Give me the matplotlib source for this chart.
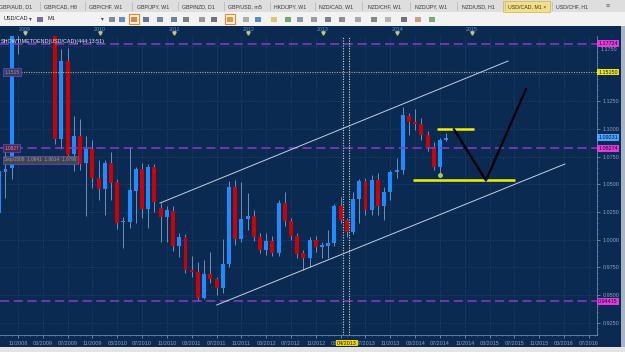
import matplotlib
matplotlib.use("Agg")
import matplotlib.pyplot as plt
import matplotlib.transforms as mtransforms
from matplotlib.patches import Rectangle
import numpy as np

plt.rcParams['font.family'] = ['Liberation Sans', 'DejaVu Sans']

# ---------------- data (USD/CAD monthly, starting Aug 2008) ----------------
start_year, start_month = 2008, 8
opens = [1.0241, 1.0614, 1.0650, 1.2100, 1.2480, 1.2200, 1.2300, 1.2700, 1.2600, 1.2000,
         1.0907, 1.1614, 1.0771, 1.0937, 1.0696, 1.0817, 1.0555, 1.0458, 1.0690, 1.0524,
         1.0160, 1.0162, 1.0443, 1.0636, 1.0274, 1.0654, 1.0284, 1.0202, 1.0259, 0.9943,
         1.0022, 0.9726, 0.9711, 0.9470, 0.9690, 0.9642, 0.9561, 0.9778, 1.0479, 1.0006,
         1.0184, 1.0217, 1.0027, 0.9907, 0.9988, 0.9877, 1.0329, 1.0171, 1.0033, 0.9877,
         0.9832, 0.9997, 0.9937, 0.9946, 0.9973, 1.0304, 1.0178, 1.0072, 1.0365, 1.0533,
         1.0268, 1.0539, 1.0304, 1.0433, 1.0614, 1.0630, 1.1117, 1.1061, 1.1042, 1.0946,
         1.0840, 1.0659, 1.0901]
highs = [1.0660, 1.0790, 1.2950, 1.2960, 1.3000, 1.2740, 1.2800, 1.3000, 1.2700, 1.2100,
         1.1720, 1.1735, 1.1117, 1.1090, 1.0937, 1.0900, 1.0720, 1.0720, 1.0795, 1.0550,
         1.0208, 1.0840, 1.0660, 1.0693, 1.0680, 1.0680, 1.0331, 1.0300, 1.0300, 1.0060,
         1.0050, 0.9850, 0.9801, 0.9816, 0.9891, 0.9660, 1.0003, 1.0530, 1.0539, 1.0524,
         1.0424, 1.0268, 1.0060, 1.0058, 1.0030, 1.0359, 1.0433, 1.0200, 1.0060, 0.9910,
         1.0027, 1.0030, 0.9979, 1.0087, 1.0320, 1.0383, 1.0200, 1.0433, 1.0550, 1.0555,
         1.0580, 1.0600, 1.0480, 1.0630, 1.0735, 1.1201, 1.1147, 1.1180, 1.1100, 1.0980,
         1.0880, 1.0920, 1.0961]
lows = [1.0180, 1.0380, 1.0548, 1.1680, 1.1900, 1.2000, 1.2100, 1.2200, 1.1900, 1.0860,
        1.0819, 1.0720, 1.0621, 1.0630, 1.0214, 1.0470, 1.0359, 1.0223, 1.0359, 1.0100,
        0.9922, 1.0106, 1.0151, 1.0200, 1.0106, 1.0250, 0.9982, 0.9982, 0.9900, 0.9846,
        0.9700, 0.9660, 0.9450, 0.9460, 0.9610, 0.9500, 0.9516, 0.9750, 0.9950, 0.9982,
        1.0087, 0.9990, 0.9880, 0.9862, 0.9850, 0.9850, 1.0120, 1.0000, 0.9830, 0.9726,
        0.9756, 0.9890, 0.9832, 0.9832, 0.9940, 1.0150, 1.0027, 1.0050, 1.0148, 1.0220,
        1.0220, 1.0220, 1.0180, 1.0360, 1.0555, 1.0590, 1.0950, 1.0990, 1.0900, 1.0800,
        1.0630, 1.0600, 1.0890]
closes = [1.0621, 1.0641, 1.2100, 1.2480, 1.2200, 1.2300, 1.2700, 1.2600, 1.2000, 1.0907,
          1.1614, 1.0762, 1.0937, 1.0681, 1.0817, 1.0555, 1.0458, 1.0690, 1.0515, 1.0148,
          1.0169, 1.0449, 1.0636, 1.0274, 1.0654, 1.0343, 1.0202, 1.0268, 0.9943, 1.0022,
          0.9726, 0.9711, 0.9470, 0.9690, 0.9642, 0.9561, 0.9778, 1.0479, 1.0006, 1.0184,
          1.0217, 1.0027, 0.9907, 0.9988, 0.9877, 1.0329, 1.0171, 1.0033, 0.9871, 0.9832,
          0.9997, 0.9937, 0.9950, 0.9973, 1.0304, 1.0178, 1.0072, 1.0365, 1.0533, 1.0268,
          1.0539, 1.0304, 1.0433, 1.0614, 1.0630, 1.1126, 1.1061, 1.1042, 1.0946, 1.0840,
          1.0659, 1.0901, 1.0923]

# horizontal levels (price, label)
magenta_levels = [1.17724, 1.08274, 0.94415]
yellow_level = 1.15150
current_price = 1.09231
price_ticks = [0.9250, 0.9500, 0.9750, 1.0000, 1.0250, 1.0500, 1.0750, 1.1000, 1.1250, 1.1500, 1.1750]
hidden_tick_labels = [1.1500]          # covered by the 1.15150 tag in the terminal
top_tick_label = 1.1750                # shown just under the magenta tag

# drawn objects (month index, price)
upper_channel = [(25.89, 1.0331), (81.96, 1.1614)]
lower_channel = [(35.03, 0.9410), (91.14, 1.0684)]
yellow_top = [(70.57, 1.0997), (76.48, 1.0997)]
yellow_bottom = [(66.70, 1.0536), (83.10, 1.0536)]
zigzag = [(73.26, 1.0997), (78.41, 1.0535), (84.86, 1.1361)]
cursor_lines = [55.42, 56.39]
cursor_label = "04/2013"
cursor_month = 56
signal_marker = (71, 1.0584)
years = [2009, 2010, 2011, 2012, 2013, 2014, 2015]

tabs = ["GBP/AUD, D1", "GBP/CAD, H8", "GBP/CHF, W1", "GBP/JPY, W1", "GBP/NZD, D1",
        "GBP/USD, m5", "HKD/JPY, W1", "NZD/CAD, W1", "NZD/CHF, W1", "NZD/JPY, W1",
        "NZD/USD, H1", "USD/CAD, M1 ×", "USD/CHF, H1"]
tab_x = [16, 60, 106, 153, 198, 245, 290, 336, 384, 431, 478, 527, 572]

# ---------------- style ----------------
NAVY = '#0b2a52'
BLUE = '#1e8cff'
RED = '#d00000'
WICK = '#6f8fbf'
GRID = '#244a74'
AXTXT = '#8ea4c4'
MAG_LINE = '#8b3acb'
MAG_BOX = '#e03ce0'

W, H = 625, 352
fig = plt.figure(figsize=(6.25, 3.52), dpi=100)
fig.patch.set_facecolor(NAVY)

# decoration axes in pixel coordinates (behind)
deco = fig.add_axes([0, 0, 1, 1], zorder=0)
deco.set_xlim(0, W)
deco.set_ylim(H, 0)
deco.axis('off')
deco.add_patch(Rectangle((0, 0), W, 12, fc='#dedede', ec='none'))
deco.add_patch(Rectangle((0, 12), W, 13.5, fc='#f2f2f2', ec='none'))
deco.add_patch(Rectangle((0, 25.5), W, 0.8, fc='#8a9ab0', ec='none'))
deco.add_patch(Rectangle((0, 347), W, 5, fc='#e4e4e4', ec='none'))
deco.add_patch(Rectangle((621, 26), 4, 321, fc='#a8b4c4', ec='none'))
deco.add_patch(Rectangle((503, 1), 47, 10.5, fc='#f3df84', ec='#c8b060', lw=0.5))
for k, (t, x) in enumerate(zip(tabs, tab_x)):
    deco.text(x, 6.3, t, fontsize=3.8, color='#333333', ha='center', va='center')
    if k < len(tabs) - 1:
        deco.plot([(x + tab_x[k + 1]) / 2 + 2] * 2, [2, 10], color='#b4b4b4', lw=0.5)
deco.text(608, 6.3, "≡", fontsize=5, color='#666666', ha='center', va='center')
# toolbar
deco.text(4, 19, "USD/CAD", fontsize=4, color='#222222', va='center')
deco.text(30, 19, "▾", fontsize=4, color='#444444', va='center', ha='center')
deco.text(48, 19, "M1", fontsize=4, color='#222222', va='center')
deco.text(102, 19, "▾", fontsize=4, color='#444444', va='center', ha='center')
deco.add_patch(Rectangle((37, 16.5), 6, 5, fc='#7a6a9a', ec='none'))
icon_x = [112, 122, 134, 146, 160, 174, 186, 202, 214, 230, 246, 258, 274, 288, 300,
          314, 328, 342, 358, 374, 388, 404, 418, 432]
icon_c = ['#6a7a90', '#4a7ac0', '#e07020', '#506080', '#607090', '#507090', '#6a6a6a',
          '#8a8a8a', '#5a5a5a', '#e08a20', '#a0a0a0', '#3a80c0', '#d8c060', '#50a050',
          '#7a8aa0', '#8a8a9a', '#6a6a7a', '#7a7a8a', '#9a9aa0', '#6a7a6a', '#aaaaaa',
          '#5a5a6a', '#c09070', '#60a060']
for x, c in zip(icon_x, icon_c):
    deco.add_patch(Rectangle((x - 3, 16.5), 6, 5, fc=c, ec='none', alpha=0.85))
for x in [134, 230]:
    deco.add_patch(Rectangle((x - 5, 14), 10, 10, fc='none', ec='#e08a20', lw=0.8))

# ---------------- main chart axes ----------------
ax = fig.add_axes([0, (H - 335) / H, 597 / W, (335 - 36) / H], zorder=1)
ax.set_facecolor(NAVY)
ax.set_xlim(0.114, 96.30)
ax.set_ylim(0.91388, 1.18403)

n = len(opens)
idx = np.arange(n)
o = np.array(opens); c = np.array(closes)
hi = np.array(highs); lo = np.array(lows)
colors = np.where(c >= o, BLUE, RED)
ax.vlines(idx, lo, hi, color=WICK, lw=0.7, zorder=3)
ax.bar(idx, np.maximum(np.abs(c - o), 0.0007), bottom=np.minimum(o, c), width=0.64,
       color=colors, lw=0, zorder=4)

# grid / ticks
tick_months = list(range(3, 96, 4))
def month_label(i):
    m = (start_month - 1 + i) % 12 + 1
    y = start_year + (start_month - 1 + i) // 12
    return f"{m:02d}/{y}"
ax.set_xticks(tick_months)
ax.set_xticklabels([month_label(i) for i in tick_months])
ax.set_xticks(np.arange(1, 97), minor=True)
ax.yaxis.tick_right()
ax.set_yticks(price_ticks)
ax.set_yticklabels(['' if (v in hidden_tick_labels or v == top_tick_label) else f"{v:.4f}"
                    for v in price_ticks])
ax.set_yticks(np.arange(0.915, 1.184, 0.005), minor=True)
ax.grid(True, which='major', color=GRID, lw=0.6, ls=(0, (1, 2)))
ax.tick_params(axis='both', which='major', labelsize=3.9, colors=AXTXT, length=2, width=0.5, pad=2)
ax.tick_params(axis='both', which='minor', length=1, width=0.4, colors=AXTXT)
for side in ['top', 'left']:
    ax.spines[side].set_visible(False)
for side in ['right', 'bottom']:
    ax.spines[side].set_color('#6f88aa')
    ax.spines[side].set_linestyle((0, (1, 1)))
    ax.spines[side].set_linewidth(0.6)

ry = mtransforms.blended_transform_factory(ax.transAxes, ax.transData)
tx = mtransforms.blended_transform_factory(ax.transData, ax.transAxes)

ax.text(1.006, top_tick_label - 0.0012, f"{top_tick_label:.4f}", transform=ry, fontsize=3.9,
        color=AXTXT, va='top', ha='left', clip_on=False, zorder=2)

# horizontal levels
for p in magenta_levels:
    ax.axhline(p, color=MAG_LINE, lw=1.1, ls=(0, (6, 3)), zorder=5)
    ax.text(1.002, p, f"{p:.5f}", transform=ry, fontsize=3.9, color='#200020',
            va='center', ha='left', zorder=12, clip_on=False,
            bbox=dict(boxstyle='square,pad=0.18', fc=MAG_BOX, ec='none'))
ax.axhline(yellow_level, xmin=0.035, color='#a9a98e', lw=0.8, ls=(0, (1, 1.2)), zorder=5)
ax.text(1.002, yellow_level, f"{yellow_level:.5f}", transform=ry, fontsize=3.9, color='#202000',
        va='center', ha='left', zorder=12, clip_on=False,
        bbox=dict(boxstyle='square,pad=0.18', fc='#f0e020', ec='none'))
ax.text(1.002, current_price, f"{current_price:.5f}", transform=ry, fontsize=3.9, color='#001030',
        va='center', ha='left', zorder=12, clip_on=False,
        bbox=dict(boxstyle='square,pad=0.18', fc='#4ea6ff', ec='none'))

# left level tags
ax.text(0.007, yellow_level, f"{yellow_level:.4f}", transform=ry, fontsize=3.4, color='#9a9aaa',
        va='center', ha='left', zorder=12,
        bbox=dict(boxstyle='square,pad=0.3', fc='#3a3a60', ec='#6a4ad0', lw=0.5))
ax.text(0.007, magenta_levels[1], f"{magenta_levels[1]:.4f}", transform=ry, fontsize=3.4,
        color='#c0a0b0', va='center', ha='left', zorder=12,
        bbox=dict(boxstyle='square,pad=0.3', fc='#4e2448', ec='#6a4ad0', lw=0.5))
ax.text(0.007, 1.0720, "Sep/2008  1.0641  1.0614  1.0790", transform=ry, fontsize=3.4,
        color='#9a9a9a', va='center', ha='left', zorder=12,
        bbox=dict(boxstyle='square,pad=0.3', fc='#404650', ec='#6a4ad0', lw=0.5))

# drawings
for seg in (upper_channel, lower_channel):
    xs, ys = zip(*seg)
    ax.plot(xs, ys, color='#c4d0e2', lw=0.7, zorder=6)
for seg in (yellow_top, yellow_bottom):
    xs, ys = zip(*seg)
    ax.plot(xs, ys, color='#f2f000', lw=1.8, zorder=7, solid_capstyle='butt')
xs, ys = zip(*zigzag)
ax.plot(xs, ys, color='black', lw=1.6, zorder=8)
ax.axvline(cursor_lines[0], color='#d8d8d8', lw=0.8, ls=(0, (1, 1.3)), zorder=6)
ax.axvline(cursor_lines[1], color='#e2e2a8', lw=0.8, ls=(0, (1, 1.3)), zorder=6)
ax.plot([signal_marker[0]], [signal_marker[1]], marker='o', ms=2.8, color='#9ccc3a',
        mec='#e8f0a0', mew=0.4, zorder=9)

# cursor date tag
ax.text(cursor_month, -0.027, cursor_label, transform=tx, fontsize=3.9, color='#101000',
        ha='center', va='center', zorder=12, clip_on=False,
        bbox=dict(boxstyle='square,pad=0.15', fc='#f2d800', ec='none'))

# year header
for yr in years:
    xi = (yr - start_year) * 12 - (start_month - 1) - 0.85
    ax.text(xi, 1.0234, str(yr), transform=tx, fontsize=3.8, color='#5d93d8',
            ha='center', va='center', clip_on=False)
    ax.plot([xi], [1.0084], marker='v', ms=2.4, color='#c6c67a', transform=tx, clip_on=False)

# title text inside chart
ax.text(0.002, 0.983, "SHOWTIMETOEND(USD/CAD)(444:13:51)", transform=ax.transAxes,
        fontsize=3.9, color='#e8e8f0', ha='left', va='center', zorder=12)

fig.savefig("out.png", dpi=100, facecolor=fig.get_facecolor())
